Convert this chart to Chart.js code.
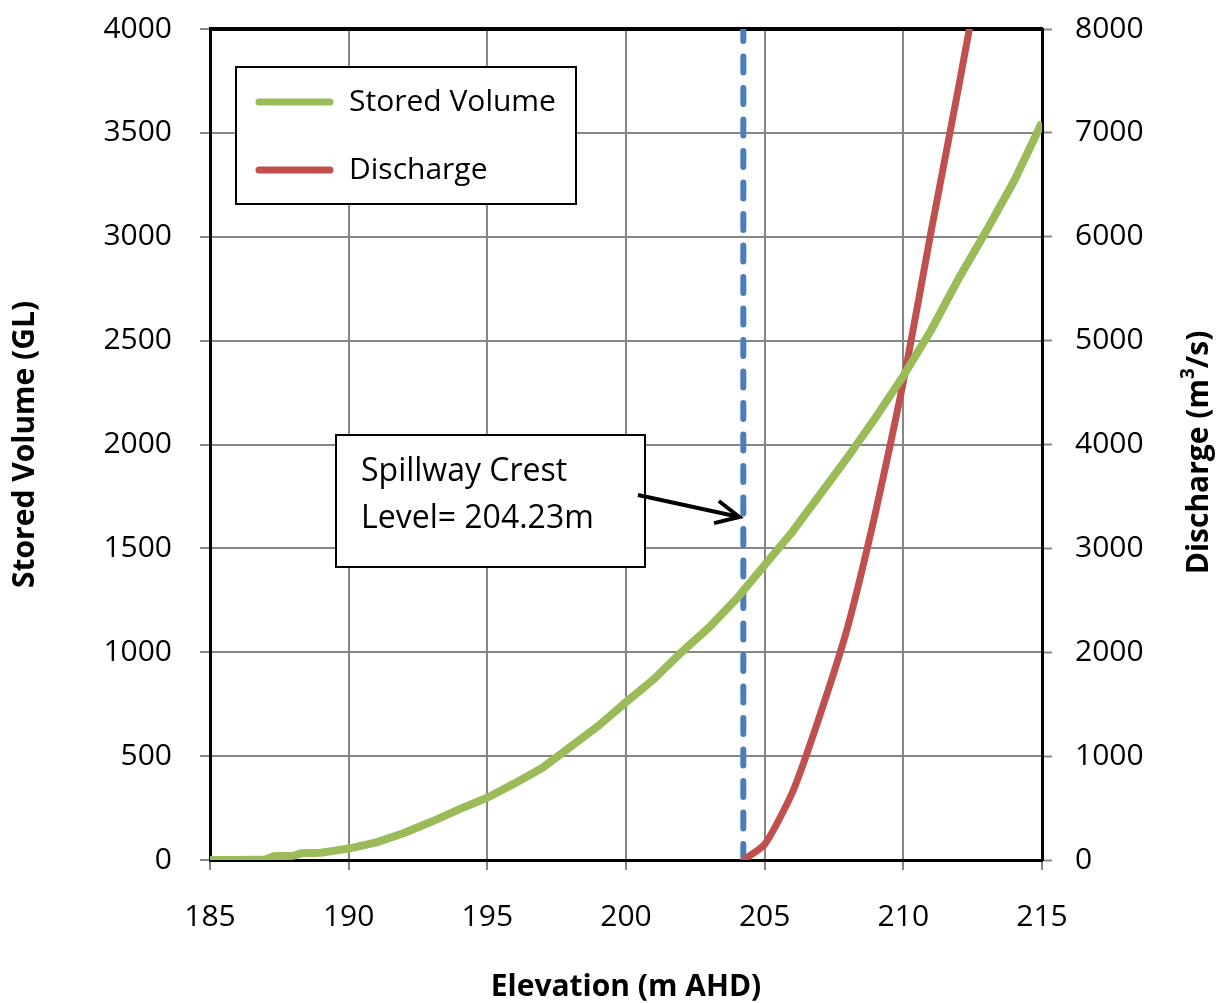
<!DOCTYPE html>
<html>
<head>
<meta charset="utf-8">
<script src="https://cdn.jsdelivr.net/npm/chart.js@4/dist/chart.umd.min.js"></script>
<style>
  html, body { margin: 0; padding: 0; background: #fff; }
  #wrap { width: 1216px; height: 1003px; }
</style>
</head>
<body>
<div id="wrap"><canvas id="damChart"></canvas></div>
<script>
// elevation (m AHD) vs stored volume (GL)
const volElevation = [185, 186, 187, 187.3, 188, 188.3, 189, 189.5, 190, 191, 192, 193, 194, 195, 196, 197, 198, 199, 200, 201, 202, 203, 204, 205, 206, 207, 208, 209, 210, 211, 212, 213, 214, 215];
const storedVolume = [0, 0, 2, 18, 20, 32, 35, 45, 55, 85, 130, 185, 245, 300, 370, 445, 545, 645, 760, 870, 1000, 1120, 1260, 1420, 1580, 1760, 1940, 2130, 2330, 2550, 2800, 3030, 3270, 3550];

// elevation (m AHD) vs discharge (m3/s)
const dischElevation = [204.23, 205, 206, 207, 208, 209, 210, 211, 212, 213];
const discharge = [0, 150, 650, 1400, 2250, 3350, 4600, 6050, 7450, 8900];

const crestLevel = 204.23;
const volumeTicks = { min: 0, max: 4000, step: 500 };
const dischargeTicks = { min: 0, max: 8000, step: 1000 };
const elevTicks = { min: 185, max: 215, step: 5 };

const pairs = (xs, ys) => xs.map((x, i) => ({ x: x, y: ys[i] }));

const gridGrey = '#868686';
const font = 'Open Sans';
const tickFont = { family: font, size: 30 };
const titleFont = { family: font, size: 30, weight: 'bold' };

const noPad = (s) => { s.paddingTop = 0; s.paddingBottom = 0; s.paddingLeft = 0; s.paddingRight = 0; };

const overlays = {
  id: 'overlays',
  beforeDatasetsDraw(chart) {
    const { ctx, chartArea } = chart;
    ctx.save();
    ctx.strokeStyle = '#000';
    ctx.lineWidth = 4;
    ctx.beginPath();
    ctx.moveTo(chartArea.left - 1, chartArea.top);
    ctx.lineTo(chartArea.right + 1, chartArea.top);
    ctx.stroke();
    ctx.restore();
  },
  afterDraw(chart) {
    const { ctx, chartArea } = chart;
    const ds = chart.data.datasets;
    ctx.save();

    // right axis title, read bottom to top, with superscript 3
    ctx.save();
    ctx.translate(1199, (chartArea.top + chartArea.bottom) / 2 + 8);
    ctx.rotate(-Math.PI / 2);
    ctx.fillStyle = '#000';
    ctx.textBaseline = 'middle';
    const big = 'bold 30px "' + font + '"';
    const small = 'bold 19px "' + font + '"';
    const parts = [['Discharge (m', big, 0], ['3', small, -10], ['/s)', big, 0]];
    let total = 0;
    parts.forEach(([t, f]) => { ctx.font = f; total += ctx.measureText(t).width; });
    let px = -total / 2;
    parts.forEach(([t, f, dy]) => {
      ctx.font = f;
      ctx.fillText(t, px, dy);
      px += ctx.measureText(t).width;
    });
    ctx.restore();

    // legend
    ctx.fillStyle = '#fff';
    ctx.fillRect(236, 67, 340, 137);
    ctx.strokeStyle = '#000';
    ctx.lineWidth = 2;
    ctx.strokeRect(236, 67, 340, 137);
    ctx.lineCap = 'round';
    ctx.lineWidth = 7;
    ctx.font = '30px "' + font + '"';
    ctx.textBaseline = 'middle';
    [[ds[0], 102], [ds[1], 170]].forEach(([d, y]) => {
      ctx.strokeStyle = d.borderColor;
      ctx.beginPath();
      ctx.moveTo(259, y);
      ctx.lineTo(330, y);
      ctx.stroke();
      ctx.fillStyle = '#000';
      ctx.fillText(d.label, 349, y);
    });

    // annotation
    ctx.lineCap = 'butt';
    ctx.fillStyle = '#fff';
    ctx.fillRect(336, 435, 309, 132);
    ctx.strokeStyle = '#000';
    ctx.lineWidth = 2;
    ctx.strokeRect(336, 435, 309, 132);
    ctx.fillStyle = '#000';
    ctx.font = '32px "' + font + '"';
    ctx.fillText('Spillway Crest', 361, 472);
    ctx.fillText('Level= 204.23m', 361, 519);

    const tipX = chart.scales.x.getPixelForValue(crestLevel) - 4;
    const tipY = 517;
    const sx = 638, sy = 495;
    ctx.lineWidth = 4;
    ctx.beginPath();
    ctx.moveTo(sx, sy);
    ctx.lineTo(tipX, tipY);
    ctx.stroke();
    const ang = Math.atan2(tipY - sy, tipX - sx);
    ctx.beginPath();
    ctx.moveTo(tipX - 26 * Math.cos(ang - 0.45), tipY - 26 * Math.sin(ang - 0.45));
    ctx.lineTo(tipX, tipY);
    ctx.lineTo(tipX - 26 * Math.cos(ang + 0.45), tipY - 26 * Math.sin(ang + 0.45));
    ctx.stroke();
    ctx.restore();
  }
};

const ctx = document.getElementById('damChart').getContext('2d');
const damChart = new Chart(ctx, {
  type: 'line',
  data: {
    datasets: [
      {
        label: 'Stored Volume',
        data: pairs(volElevation, storedVolume),
        yAxisID: 'y',
        borderColor: '#9BBB59',
        borderWidth: 8,
        pointRadius: 0,
        tension: 0
      },
      {
        label: 'Discharge',
        data: pairs(dischElevation, discharge),
        yAxisID: 'y2',
        borderColor: '#C0504D',
        borderWidth: 7,
        pointRadius: 0,
        tension: 0.2
      },
      {
        label: 'Spillway Crest',
        data: [{ x: crestLevel, y: volumeTicks.min }, { x: crestLevel, y: volumeTicks.max }],
        yAxisID: 'y',
        borderColor: '#4A7EBB',
        borderWidth: 6,
        borderDash: [16, 15.5],
        borderCapStyle: 'round',
        pointRadius: 0
      }
    ]
  },
  options: {
    responsive: true,
    maintainAspectRatio: false,
    animation: false,
    layout: { padding: { top: 29, left: 0, right: 0, bottom: 0 } },
    plugins: {
      legend: { display: false },
      tooltip: { enabled: false }
    },
    scales: {
      x: {
        type: 'linear',
        min: elevTicks.min,
        max: elevTicks.max,
        afterFit: (s) => { s.height = 143; noPad(s); },
        ticks: { stepSize: elevTicks.step, color: '#000', font: tickFont, padding: 29, maxRotation: 0, callback: (v) => String(v) },
        grid: { color: gridGrey, lineWidth: 2, tickLength: 10, tickColor: gridGrey, tickWidth: 2 },
        border: { color: '#000', width: 3 },
        title: { display: true, text: 'Elevation (m AHD)', color: '#000', font: titleFont, padding: { top: 0, bottom: -2 } }
      },
      y: {
        position: 'left',
        min: volumeTicks.min,
        max: volumeTicks.max,
        afterFit: (s) => { s.width = 210; noPad(s); },
        ticks: { stepSize: volumeTicks.step, color: '#000', font: tickFont, padding: 28, callback: (v) => String(v) },
        grid: { color: gridGrey, lineWidth: 2, tickLength: 10, tickColor: gridGrey, tickWidth: 2 },
        border: { color: '#000', width: 3 },
        title: { display: true, text: 'Stored Volume (GL)', color: '#000', font: titleFont, padding: { top: 7, bottom: 0 } }
      },
      y2: {
        position: 'right',
        min: dischargeTicks.min,
        max: dischargeTicks.max,
        afterFit: (s) => { s.width = 174; noPad(s); },
        ticks: { stepSize: dischargeTicks.step, color: '#000', font: tickFont, padding: 23, callback: (v) => String(v) },
        grid: { drawOnChartArea: false, tickLength: 10, tickColor: gridGrey, tickWidth: 2 },
        border: { color: '#000', width: 3 },
        title: { display: false }
      }
    }
  },
  plugins: [overlays]
});
</script>
</body>
</html>
